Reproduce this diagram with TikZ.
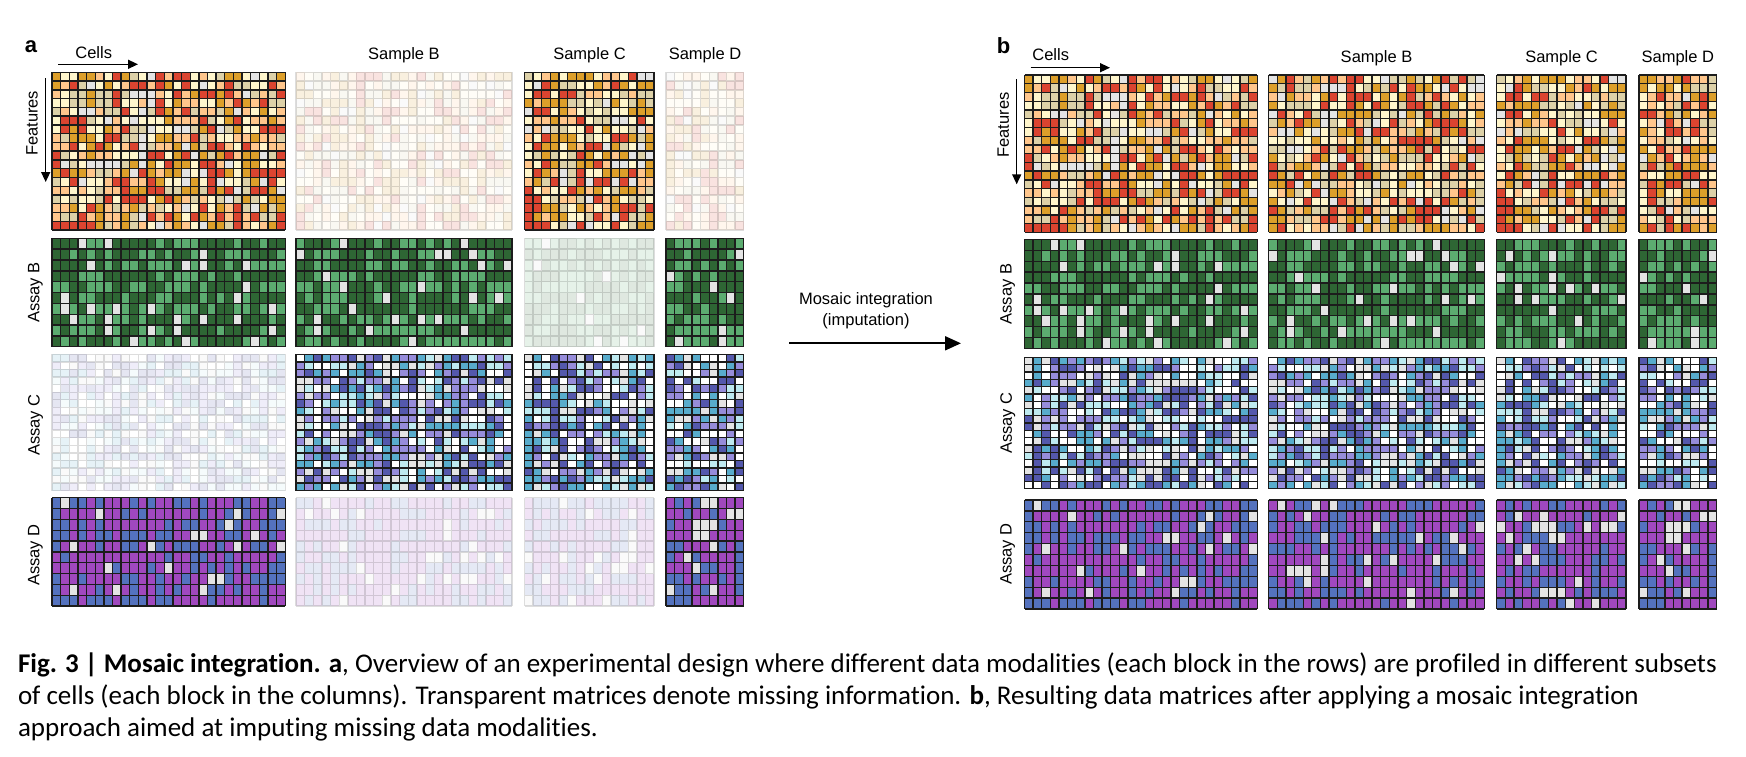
\documentclass[tikz,border=0pt]{standalone}
\usepackage{fontspec}
\setmainfont{Liberation Sans}
\newfontfamily\capfont[Ligatures=NoCommon]{Carlito}
\usetikzlibrary{arrows.meta}

\definecolor{fR}{RGB}{219,68,48}
\definecolor{fG}{RGB}{221,159,42}
\definecolor{fP}{RGB}{255,198,140}
\definecolor{fC}{RGB}{255,246,204}
\definecolor{fT}{RGB}{221,209,168}
\definecolor{fX}{RGB}{228,228,228}
\definecolor{gD}{RGB}{46,102,52}
\definecolor{gM}{RGB}{92,172,112}
\definecolor{cD}{RGB}{84,88,172}
\definecolor{cL}{RGB}{150,140,218}
\definecolor{cT}{RGB}{88,172,204}
\definecolor{cY}{RGB}{190,234,240}
\definecolor{cW}{RGB}{255,255,255}
\definecolor{dP}{RGB}{160,72,190}
\definecolor{dB}{RGB}{84,114,190}
\definecolor{gridc}{RGB}{28,28,28}

\def\palF#1{\ifnum#1<20 fR\else\ifnum#1<38 fG\else\ifnum#1<56 fP\else\ifnum#1<74 fC\else\ifnum#1<92 fT\else fX\fi\fi\fi\fi\fi}
\def\palB#1{\ifnum#1<54 gD\else\ifnum#1<93 gM\else fX\fi\fi}
\def\palC#1{\ifnum#1<20 cD\else\ifnum#1<38 cL\else\ifnum#1<54 cT\else\ifnum#1<70 cY\else\ifnum#1<86 cW\else fX\fi\fi\fi\fi\fi}
\def\palD#1{\ifnum#1<55 dP\else\ifnum#1<90 dB\else fX\fi\fi}

% #1 x, #2 y, #3 cols, #4 rows, #5 w, #6 h, #7 palette, #8 opacity, #9 seed
\newcommand\mblock[9]{%
  \pgfmathsetseed{#9}%
  \begin{scope}[opacity=#8]
    \foreach \i in {1,...,#3}{\foreach \j in {1,...,#4}{%
      \pgfmathrandominteger{\mbrnd}{1}{100}%
      \edef\mbcol{#7{\mbrnd}}%
      \fill[fill=\mbcol] ({#1+(\i-1)*#5},{#2+(\j-1)*#6}) rectangle ++(#5,#6);
    }}
    \draw[gridc, line width=1.35pt]
      \foreach \i in {0,...,#3}{({#1+\i*#5},#2) -- ++(0,{#4*#6})}
      \foreach \j in {0,...,#4}{(#1,{#2+\j*#6}) -- ++({#3*#5},0)};
  \end{scope}
}

\begin{document}
\begin{tikzpicture}[x=1pt,y=-1pt,
  lab/.style={font=\fontsize{16.5}{19}\selectfont, inner sep=0pt},
  panel/.style={font=\fontsize{22}{24}\selectfont\bfseries, inner sep=0pt},
  capt/.style={font=\capfont\fontsize{27}{32}\selectfont, inner sep=0pt, anchor=base west},
  arr/.style={-{Triangle[length=10pt,width=9pt]}, line width=1.5pt},
  bigarr/.style={-{Triangle[length=16pt,width=14pt]}, line width=2pt}]
\useasboundingbox (0,0) rectangle (1746,756);
\fill[white] (0,0) rectangle (1746,756);

% ---------------- panel a ----------------
\mblock{52}{72.3}{27}{18}{8.64}{8.76}{\palF}{1}{11}
\mblock{296}{72.3}{25}{18}{8.64}{8.76}{\palF}{0.15}{12}
\mblock{524.5}{72.3}{15}{18}{8.64}{8.76}{\palF}{1}{13}
\mblock{666}{72.3}{9}{18}{8.64}{8.76}{\palF}{0.15}{14}

\mblock{52}{238.3}{27}{10}{8.64}{10.84}{\palB}{1}{21}
\mblock{296}{238.3}{25}{10}{8.64}{10.84}{\palB}{1}{22}
\mblock{524.5}{238.3}{15}{10}{8.64}{10.84}{\palB}{0.15}{23}
\mblock{666}{238.3}{9}{10}{8.64}{10.84}{\palB}{1}{24}

\mblock{52}{354.3}{27}{18}{8.64}{7.58}{\palC}{0.15}{31}
\mblock{296}{354.3}{25}{18}{8.64}{7.58}{\palC}{1}{32}
\mblock{524.5}{354.3}{15}{18}{8.64}{7.58}{\palC}{1}{33}
\mblock{666}{354.3}{9}{18}{8.64}{7.58}{\palC}{1}{34}

\mblock{52}{497.7}{27}{10}{8.64}{10.83}{\palD}{1}{41}
\mblock{296}{497.7}{25}{10}{8.64}{10.83}{\palD}{0.15}{42}
\mblock{524.5}{497.7}{15}{10}{8.64}{10.83}{\palD}{0.15}{43}
\mblock{666}{497.7}{9}{10}{8.64}{10.83}{\palD}{1}{44}

\node[panel] (la) at (31,47) {a};
\node[lab] (cellsa) at (93.7,52.3) {Cells};
\coordinate (ca1) at (58,64.3);
\coordinate (ca2) at (138,64.3);
\draw[arr] (ca1) -- (ca2);
\node[lab, rotate=90] (feata) at (32,123.3) {Features};
\coordinate (fa1) at (45.7,78);
\coordinate (fa2) at (45.7,182);
\draw[arr] (fa1) -- (fa2);
\node[lab] (sba) at (404,55) {Sample B};
\node[lab] (sca) at (589.5,55) {Sample C};
\node[lab] (sda) at (705,55) {Sample D};
\node[lab, rotate=90] (aba) at (35.5,292.5) {Assay B};
\node[lab, rotate=90] (aca) at (35.5,425) {Assay C};
\node[lab, rotate=90] (ada) at (35.5,555) {Assay D};

% ---------------- middle arrow ----------------
\node[lab] (mos1) at (866,300) {Mosaic integration};
\node[lab] (mos2) at (866,321.7) {(imputation)};
\coordinate (m1) at (789.3,343.3);
\coordinate (m2) at (961,343.3);
\draw[bigarr] (m1) -- (m2);

% ---------------- panel b ----------------
\mblock{1024.5}{75}{27}{18}{8.62}{8.74}{\palF}{1}{11}
\mblock{1268.7}{75}{25}{18}{8.62}{8.74}{\palF}{1}{52}
\mblock{1496.7}{75}{15}{18}{8.62}{8.74}{\palF}{1}{13}
\mblock{1639}{75}{9}{18}{8.62}{8.74}{\palF}{1}{54}

\mblock{1024.5}{239.4}{27}{10}{8.62}{10.91}{\palB}{1}{21}
\mblock{1268.7}{239.4}{25}{10}{8.62}{10.91}{\palB}{1}{22}
\mblock{1496.7}{239.4}{15}{10}{8.62}{10.91}{\palB}{1}{63}
\mblock{1639}{239.4}{9}{10}{8.62}{10.91}{\palB}{1}{24}

\mblock{1024.5}{357.4}{27}{18}{8.62}{7.3}{\palC}{1}{71}
\mblock{1268.7}{357.4}{25}{18}{8.62}{7.3}{\palC}{1}{32}
\mblock{1496.7}{357.4}{15}{18}{8.62}{7.3}{\palC}{1}{33}
\mblock{1639}{357.4}{9}{18}{8.62}{7.3}{\palC}{1}{34}

\mblock{1024.5}{500}{27}{10}{8.62}{10.9}{\palD}{1}{41}
\mblock{1268.7}{500}{25}{10}{8.62}{10.9}{\palD}{1}{82}
\mblock{1496.7}{500}{15}{10}{8.62}{10.9}{\palD}{1}{83}
\mblock{1639}{500}{9}{10}{8.62}{10.9}{\palD}{1}{44}

\node[panel] (lb) at (1003.5,46) {b};
\node[lab] (cellsb) at (1050.7,54.3) {Cells};
\coordinate (cb1) at (1030.7,67.7);
\coordinate (cb2) at (1110,67.7);
\draw[arr] (cb1) -- (cb2);
\node[lab, rotate=90] (featb) at (1003.3,125) {Features};
\coordinate (fb1) at (1016.7,79.3);
\coordinate (fb2) at (1016.7,184.3);
\draw[arr] (fb1) -- (fb2);
\node[lab] (sbb) at (1376.5,58) {Sample B};
\node[lab] (scb) at (1561.5,58) {Sample C};
\node[lab] (sdb) at (1677.8,58) {Sample D};
\node[lab, rotate=90] (abb) at (1007.7,294) {Assay B};
\node[lab, rotate=90] (acb) at (1007.7,423) {Assay C};
\node[lab, rotate=90] (adb) at (1007.7,554) {Assay D};

% ---------------- caption ----------------
\node[capt] (cap1) at (17.8,672) {\textbf{Fig. 3 | Mosaic integration. a}, Overview of an experimental design where different data modalities (each block in the rows) are profiled in different subsets};
\node[capt] (cap2) at (17.8,704) {of cells (each block in the columns). Transparent matrices denote missing information. \textbf{b}, Resulting data matrices after applying a mosaic integration};
\node[capt] (cap3) at (17.8,736) {approach aimed at imputing missing data modalities.};
\end{tikzpicture}
\end{document}
